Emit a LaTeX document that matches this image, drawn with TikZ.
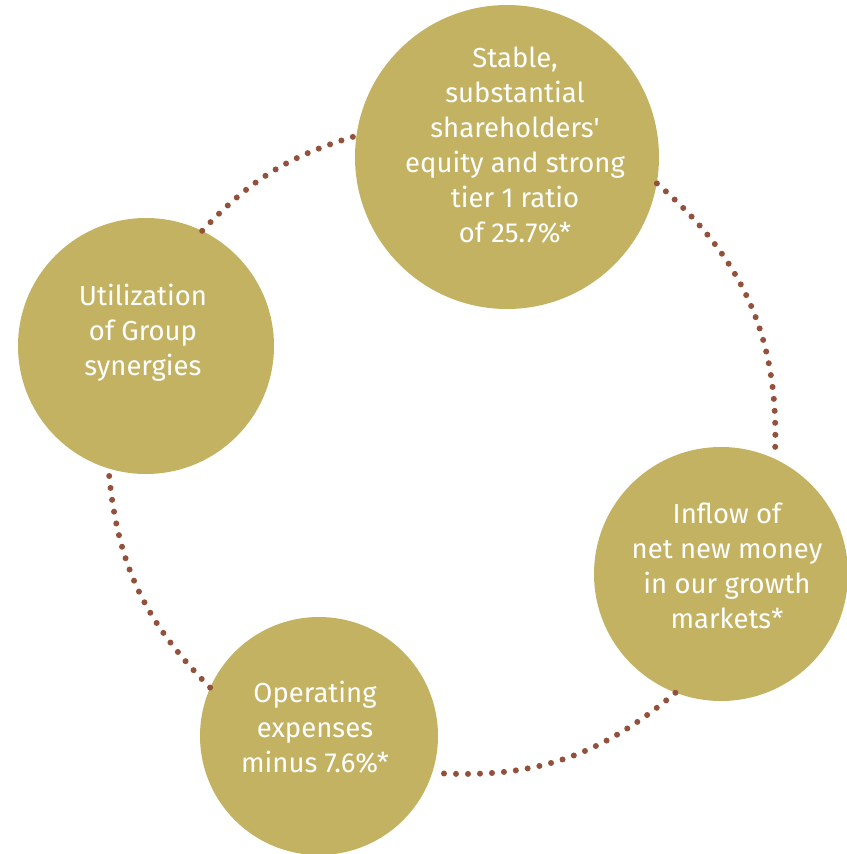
\documentclass[tikz,border=0pt]{standalone}
\usepackage{fontspec}
\setmainfont{Fira Sans}
\definecolor{gold}{RGB}{196,178,99}
\definecolor{rust}{RGB}{147,80,58}

\begin{document}
\begin{tikzpicture}[x=1pt, y=-1pt,
		blob/.style={circle, fill=gold, inner sep=0pt},
		txt/.style={align=center, text=white, inner sep=0pt, anchor=base, font=\fontsize{27.5}{35}\selectfont},
		dots/.style={rust, line width=6pt, line cap=round, dash pattern=on 0pt off 12pt}]
		\useasboundingbox (0,0) rectangle (846,854);
		% blobs
		\node[blob, minimum size=304pt] (equity) at (507,157) {};
		\node[blob, minimum size=256pt] (synergy) at (146,346) {};
		\node[blob, minimum size=254pt] (inflow) at (721,574) {};
		\node[blob, minimum size=238pt] (costs) at (319,736) {};
		% dotted ring between the blobs
		\draw[dots] (synergy.64) to[bend left=15] (equity.172);
		\draw[dots] (equity.-10) to[bend left=26] (inflow.65);
		\draw[dots] (inflow.-111) to[bend left=22] (costs.-18);
		\draw[dots] (costs.156) to[bend left=20] (synergy.-107);
		% labels (anchored on the last line)
		\node[txt] (equity-t) at (515,242) {Stable,\\substantial\\shareholders\textquotesingle\\equity and strong\\tier 1 ratio\\of 25.7\%*};
		\node[txt] (synergy-t) at (143,375) {Utilization\\of Group\\synergies};
		\node[txt] (inflow-t) at (727,628) {Inflow of\\net new money\\in our growth\\markets*};
		\node[txt] (costs-t) at (315,772) {Operating\\expenses\\minus 7.6\%*};
	\end{tikzpicture}
\end{document}
